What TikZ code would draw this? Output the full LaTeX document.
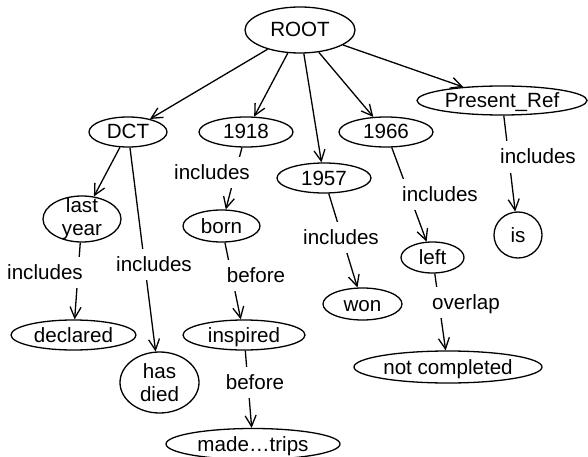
\documentclass[tikz,border=0pt]{standalone}
\usepackage{fontspec}
\setmainfont{Liberation Sans}
\usetikzlibrary{shapes.geometric,arrows.meta}
\begin{document}
\begin{tikzpicture}[x=1pt,y=-1pt,
  every node/.style={font=\fontsize{20.6}{23}\selectfont},
  nd/.style={ellipse,draw,line width=1.3pt,inner sep=-12pt,text height=14pt,text depth=0pt},
  nd2/.style={ellipse,draw,line width=1.3pt,inner sep=-14pt,align=center},
  lbl/.style={fill=white,inner xsep=2pt,inner ysep=8.5pt,text height=14pt,text depth=0pt},
  edge/.style={line width=1.3pt,-{Straight Barb[length=11pt,width=11pt,line width=1.3pt]}}]
\useasboundingbox (0,0) rectangle (588,457);
% nodes
\node[nd,minimum width=110pt,minimum height=46pt] (root) at (300,30) {ROOT};
\node[nd,minimum width=78pt,minimum height=30pt] (dct) at (128,132) {DCT};
\node[nd,minimum width=94pt,minimum height=30pt] (n1918) at (246,132) {1918};
\node[nd,minimum width=94pt,minimum height=30pt] (n1957) at (324,178) {1957};
\node[nd,minimum width=94pt,minimum height=30pt] (n1966) at (386,132) {1966};
\node[nd,minimum width=170pt,minimum height=29pt] (pref) at (502,100.5) {Present\_Ref};
\node[nd2,minimum width=78pt,minimum height=46pt] (lastyear) at (82,219) {last\\year};
\node[nd,minimum width=125pt,minimum height=30pt] (declared) at (73.5,335) {declared};
\node[nd2,minimum width=79pt,minimum height=61pt] (hasdied) at (159.5,382.5) {has\\died};
\node[nd,minimum width=77pt,minimum height=32pt] (born) at (221.5,226) {born};
\node[nd,minimum width=122pt,minimum height=30pt] (inspired) at (244,335) {inspired};
\node[nd,minimum width=174pt,minimum height=31pt] (made) at (253,444) {made…trips};
\node[nd,minimum width=79pt,minimum height=32pt] (won) at (362.5,304) {won};
\node[nd,minimum width=63pt,minimum height=31pt] (left) at (432.5,257.5) {left};
\node[nd,minimum width=188pt,minimum height=32pt] (notc) at (448,367) {not completed};
\node[nd,minimum width=48pt,minimum height=46pt] (is) at (518,235) {is};
% edges
\draw[edge] (root) -- (dct);
\draw[edge] (root) -- (n1918);
\draw[edge] (root) -- (n1957);
\draw[edge] (root) -- (n1966);
\draw[edge] (root) -- (pref);
\draw[edge] (dct) -- (lastyear);
\draw[edge] (dct) -- (hasdied);
\draw[edge] (lastyear) -- (declared);
\draw[edge] (n1918) -- (born);
\draw[edge] (born) -- (inspired);
\draw[edge] (inspired) -- (made);
\draw[edge] (n1957) -- (won);
\draw[edge] (n1966) -- (left);
\draw[edge] (left) -- (notc);
\draw[edge] (pref) -- (is);
% edge labels
\node[lbl] (l1) at (154,264.5) {includes};
\node[lbl] (l2) at (45,272.5) {includes};
\node[lbl] (l3) at (212,172.5) {includes};
\node[lbl] (l4) at (256,275) {before};
\node[lbl] (l5) at (255,382.5) {before};
\node[lbl] (l6) at (341,237.5) {includes};
\node[lbl] (l7) at (440,194) {includes};
\node[lbl] (l8) at (466,302.5) {overlap};
\node[lbl] (l9) at (538,157) {includes};
\end{tikzpicture}
\end{document}
